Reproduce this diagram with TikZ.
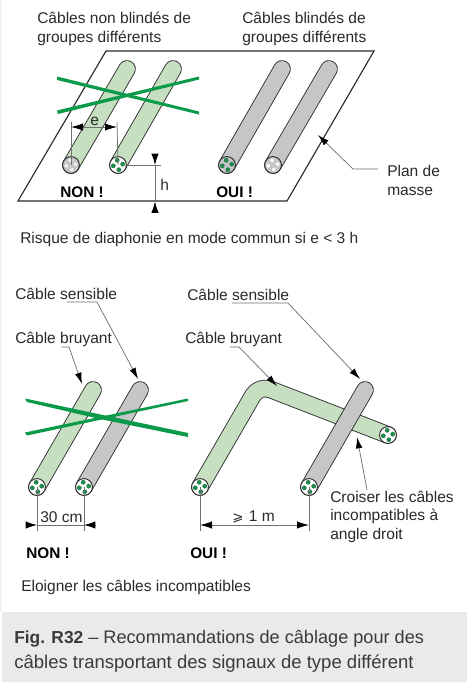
\documentclass[tikz,border=0pt]{standalone}
\usepackage{fontspec}
\setmainfont{Liberation Sans}
\newfontfamily\djv{DejaVu Sans}
\usetikzlibrary{arrows.meta}
\definecolor{cabgreen}{HTML}{C5DFC0}
\definecolor{cabgray}{HTML}{C6C6C6}
\definecolor{crossgreen}{HTML}{0B9A4A}
\definecolor{dotgreen}{HTML}{1E8E4E}
\definecolor{inkc}{HTML}{2A2A2A}
\definecolor{capbg}{HTML}{EAEAEA}
\definecolor{capink}{HTML}{3A3A3A}
\definecolor{leadc}{HTML}{707070}
\tikzset{
  lbl/.style={anchor=base west,inner sep=0pt,text=inkc,font=\fontsize{11.65pt}{14pt}\selectfont},
  boldlbl/.style={anchor=base west,inner sep=0pt,text=black,font=\fontsize{11.5pt}{14pt}\selectfont\bfseries},
  caplbl/.style={anchor=base west,inner sep=0pt,text=capink,font=\fontsize{13.9pt}{16pt}\selectfont},
  cabout/.style={line width=13.2pt,draw=inkc,line cap=round,line join=round},
  cabin/.style={line width=11.9pt,line cap=round,line join=round},
  endc/.style={circle,draw=inkc,line width=0.7pt,minimum size=12.6pt,inner sep=0pt},
  plane/.style={draw=inkc,line width=0.85pt},
  thin dim/.style={draw=leadc,line width=0.55pt},
  dimarrow/.style={draw=leadc,line width=0.6pt,{Latex[length=9pt,width=5.5pt,black]}-{Latex[length=9pt,width=5.5pt,black]}},
  outarrow/.style={draw=leadc,line width=0.6pt,{Latex[length=8.5pt,width=5.5pt,black]}-},
  leader/.style={draw=leadc,line width=0.55pt,-{Latex[length=8.5pt,width=5pt,black]}},
}
% name, position, face colour, dot colour
\newcommand{\cabend}[4]{%
  \node[endc,fill=#3] (#1) at (#2) {};
  \foreach \ang in {10,100,190,280}
    \filldraw[fill=#4,draw=#4!75!black,line width=0.2pt] (#1.center) ++(\ang:3.6pt) circle (1.6pt);
}
\begin{document}
\begin{tikzpicture}[x=0.75pt,y=-0.75pt]
\useasboundingbox (0,0) rectangle (467,682);
\fill[white] (0,0) rectangle (467,682);
\fill[capbg!60] (0,0) rectangle (2,612);
\fill[capbg] (2,612) rectangle (467,682);

% --- upper plane
\coordinate (p1) at (18,201);
\coordinate (p2) at (106,51);
\coordinate (p3) at (374,51);
\coordinate (p4) at (287,201);
\draw[plane] (p1) -- (p2) -- (p3) -- (p4) -- cycle;

% upper cables
\draw[cabout] (71,165) -- (127,69);
\draw[cabin,draw=cabgreen] (71,165) -- (127,69);
\draw[cabout] (118,165) -- (173,69);
\draw[cabin,draw=cabgreen] (118,165) -- (173,69);
\draw[cabout] (227,165) -- (282,69);
\draw[cabin,draw=cabgray] (227,165) -- (282,69);
\draw[cabout] (273,165) -- (329,69);
\draw[cabin,draw=cabgray] (273,165) -- (329,69);
\cabend{ua}{71,165}{cabgray}{white!90!gray}
\cabend{ub}{118,165}{white}{dotgreen}
\cabend{uc}{227,165}{cabgray}{dotgreen}
\cabend{ud}{273,165}{cabgray}{white}

% e dimension
\coordinate (ea) at (71,127);
\coordinate (eb) at (117,127);
\coordinate (ea0) at (71,122);
\coordinate (eb0) at (117,122);
\draw[thin dim] (ea0) -- (ua.center);
\draw[thin dim] (eb0) -- (ub.center);
\draw[dimarrow] (ea) -- (eb);
\node[lbl] (le) at (90,125) {e};

% h dimension
\coordinate (ha) at (155,165);
\coordinate (hb) at (155,201.5);
\coordinate (hc) at (161,165);
\coordinate (ht) at (155,154);
\coordinate (hl) at (155,213);
\draw[thin dim] (ub) -- (hc);
\draw[outarrow] (ha) -- (ht);
\draw[outarrow] (hb) -- (hl);
\draw[thin dim] (ha) -- (hb);
\node[lbl] (lh) at (160,190) {h};

% upper crosses
\fill[crossgreen] (57,76.5) -- (199,111.5) -- (199,114.5) -- (57,80) -- cycle;
\fill[crossgreen] (57,110.5) -- (199,76.5) -- (199,79.5) -- (58,114) -- cycle;

% plan de masse leader
\coordinate (pm0) at (378,169);
\coordinate (pm1) at (353,169);
\coordinate (pm2) at (318,135);
\draw[leader] (pm0) -- (pm1) -- (pm2);

\node[lbl] (t1) at (37,23) {Câbles non blindés de};
\node[lbl] (t2) at (37,42) {groupes différents};
\node[lbl] (t3) at (242,23) {Câbles blindés de};
\node[lbl] (t4) at (242,42) {groupes différents};
\node[lbl] (t5) at (387,176) {Plan de};
\node[lbl] (t6) at (387,195) {masse};
\node[boldlbl] (t7) at (60,197) {NON !};
\node[boldlbl] (t8) at (216,197) {OUI !};
\node[lbl] (t9) at (20,243) {Risque de diaphonie en mode commun si e < 3 h};

% --- lower left
\draw[cabout] (37,487) -- (93,390);
\draw[cabin,draw=cabgreen] (37,487) -- (93,390);
\draw[cabout] (84,487) -- (140,390);
\draw[cabin,draw=cabgray] (84,487) -- (140,390);
\cabend{la}{37,487}{white}{dotgreen}
\cabend{lb}{84,487}{white}{dotgreen}

\coordinate (la1) at (37,531);
\coordinate (lb1) at (84,531);
\draw[thin dim] (la.center) -- (la1);
\draw[thin dim] (lb.center) -- (lb1);
\coordinate (la2) at (37,525);
\coordinate (lb2) at (84,525);
\coordinate (la3) at (26,525);
\coordinate (lb3) at (96,525);
\draw[thin dim] (la2) -- (lb2);
\draw[outarrow] (la2) -- (la3);
\draw[outarrow] (lb2) -- (lb3);
\node[lbl] (t10) at (40,522) {30 cm};

% lower left crosses
\fill[crossgreen] (25,398.5) -- (188,433) -- (188,437) -- (100,419) -- (27,402) -- cycle;
\fill[crossgreen] (25,432.5) -- (188,398.5) -- (188,401) -- (27,435.5) -- cycle;

\coordinate (ls0) at (67,302);
\coordinate (ls1) at (97,302);
\coordinate (ls2) at (138,379);
\draw[leader] (ls0) -- (ls1) -- (ls2);
\coordinate (lr0) at (61,347);
\coordinate (lr1) at (69,347);
\coordinate (lr2) at (82,384);
\draw[leader] (lr0) -- (lr1) -- (lr2);

\node[lbl] (t11) at (15,299) {Câble sensible};
\node[lbl] (t12) at (15,343) {Câble bruyant};
\node[boldlbl] (t13) at (26,558) {NON !};
\node[lbl] (t14) at (21,591) {Eloigner les câbles incompatibles};

% --- lower right
\draw[cabout,rounded corners=9pt] (200,487) -- (259,385) -- (388,435);
\draw[cabin,draw=cabgreen,rounded corners=9pt] (200,487) -- (259,385) -- (388,435);
\cabend{rc}{388,435}{white}{dotgreen}
\draw[cabout] (309,487) -- (365,390);
\draw[cabin,draw=cabgray] (309,487) -- (365,390);
\cabend{ra}{200,487}{white}{dotgreen}
\cabend{rb}{309,487}{white}{dotgreen}

\coordinate (ra1) at (200,531);
\coordinate (rb1) at (309,531);
\coordinate (ra2) at (200,525);
\coordinate (rb2) at (309,525);
\draw[thin dim] (ra.center) -- (ra1);
\draw[thin dim] (rb.center) -- (rb1);
\draw[dimarrow] (ra2) -- (rb2);
\node[lbl] (t15) at (232,521) {{\djv\fontsize{10pt}{12pt}\selectfont ⩾}\hspace{0.35em}1 m};

\coordinate (rs0) at (232,303);
\coordinate (rs1) at (288,303);
\coordinate (rs2) at (360,379);
\draw[leader] (rs0) -- (rs1) -- (rs2);
\coordinate (rr0) at (230,347);
\coordinate (rr1) at (239,347);
\coordinate (rr2) at (277,386);
\draw[leader] (rr0) -- (rr1) -- (rr2);
\coordinate (rx0) at (367,490);
\coordinate (rx1) at (357,437);
\draw[leader] (rx0) -- (rx1);

\node[lbl] (t16) at (187,300) {Câble sensible};
\node[lbl] (t17) at (185,343) {Câble bruyant};
\node[boldlbl] (t18) at (190,558) {OUI !};
\node[lbl] (t19) at (330,502) {Croiser les câbles};
\node[lbl] (t20) at (330,520) {incompatibles à};
\node[lbl] (t21) at (330,539) {angle droit};

% --- caption
\node[caplbl] (c1) at (14,643) {\fontsize{13pt}{16pt}\selectfont\textbf{Fig. R32}\fontsize{13.6pt}{16pt}\selectfont\ – Recommandations de câblage pour des};
\node[caplbl] (c2) at (14,668) {câbles transportant des signaux de type différent};
\end{tikzpicture}
\end{document}
